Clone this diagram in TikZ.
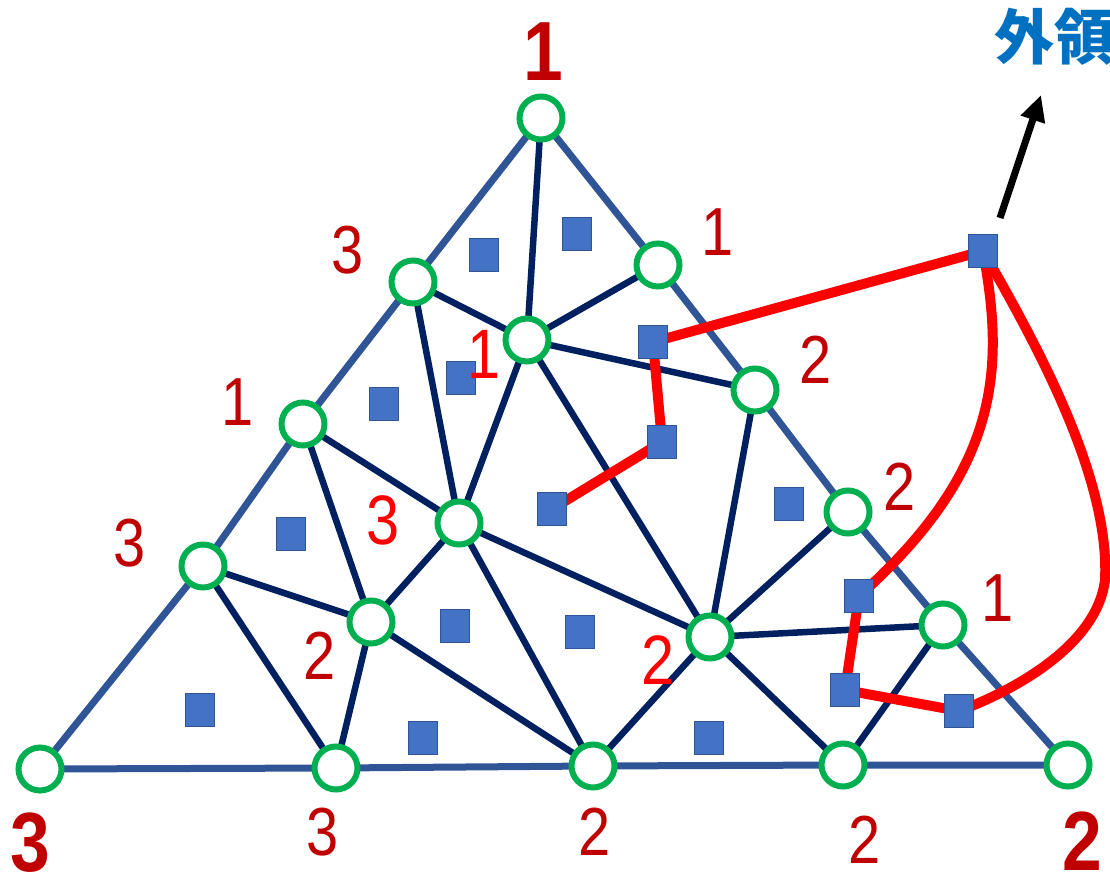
\documentclass[tikz,border=0pt]{standalone}
\usepackage{fontspec}
\setmainfont{Liberation Sans}
\newfontfamily\cjkfont{Noto Sans CJK JP}
\usetikzlibrary{arrows.meta}
\definecolor{vgreen}{HTML}{00B050}
\definecolor{outerblue}{HTML}{2F5597}
\definecolor{navy}{HTML}{002060}
\definecolor{sqfill}{HTML}{4472C4}
\definecolor{sqedge}{HTML}{2F5597}
\definecolor{dred}{HTML}{C00000}
\definecolor{bred}{HTML}{FF0000}
\definecolor{tblue}{HTML}{0070C0}
\newcommand{\nrw}[1]{\scalebox{0.85}[1]{#1}}
\begin{document}
\begin{tikzpicture}[x=1pt,y=-1pt,
  vtx/.style={circle,draw=vgreen,fill=white,line width=6pt,minimum size=43pt,inner sep=0pt},
  face/.style={rectangle,draw=sqedge,fill=sqfill,line width=1.5pt,minimum width=29pt,minimum height=33pt,inner sep=0pt},
  outeredge/.style={draw=outerblue,line width=7pt},
  inedge/.style={draw=navy,line width=6.5pt},
  dualedge/.style={draw=bred,line width=10pt},
  lbl/.style={text=dred,inner sep=0pt,font=\fontsize{68}{68}\selectfont},
  biglbl/.style={text=dred,inner sep=0pt,font=\fontsize{84}{84}\selectfont\bfseries},
  inlbl/.style={text=bred,inner sep=0pt,font=\fontsize{70}{70}\selectfont}]
\useasboundingbox (0,0) rectangle (1110,880);
\clip (0,0) rectangle (1110,880);
% vertex positions
\coordinate (pA) at (541,118);
\coordinate (pB) at (413,282);
\coordinate (pC) at (658,265);
\coordinate (pD) at (527,340);
\coordinate (pE) at (303,424);
\coordinate (pF) at (755,390);
\coordinate (pG) at (459,523);
\coordinate (pH) at (848,512);
\coordinate (pI) at (203,566);
\coordinate (pJ) at (371,622);
\coordinate (pK) at (710,637);
\coordinate (pL) at (943,625);
\coordinate (pM) at (40,769);
\coordinate (pN) at (336,768);
\coordinate (pO) at (593,766);
\coordinate (pP) at (843,765);
\coordinate (pQ) at (1068,765);
% outer edges
\draw[outeredge] (pM) -- (pI) -- (pE) -- (pB) -- (pA) -- (pC) -- (pF) -- (pH) -- (pL) -- (pQ) -- (pP) -- (pO) -- (pN) -- (pM);
% inner edges
\foreach \u/\v in {A/D,B/D,C/D,B/G,D/F,D/G,D/K,E/G,E/J,I/J,I/N,J/G,J/N,J/O,G/O,G/K,F/K,H/K,K/O,K/L,K/P,L/P}
  \draw[inedge] (p\u) -- (p\v);
% dual squares (positions)
\coordinate (q1) at (577,234);
\coordinate (q2) at (484,255);
\coordinate (q3) at (461,378);
\coordinate (q4) at (384,404);
\coordinate (q5) at (291,534);
\coordinate (q6) at (552,509);
\coordinate (q7) at (653,342);
\coordinate (q8) at (662,442);
\coordinate (q9) at (789,504);
\coordinate (q10) at (455,626);
\coordinate (q11) at (580,632);
\coordinate (q12) at (200,710);
\coordinate (q13) at (423,738);
\coordinate (q14) at (709,738);
\coordinate (q15) at (859,596);
\coordinate (q16) at (845,690);
\coordinate (q17) at (959,711);
\coordinate (q18) at (983,251);
% red dual path
\draw[dualedge] (q18) -- (q7) -- (q8) -- (q6);
\draw[dualedge] (q18) .. controls (1005,370) and (1000,470) .. (q15);
\draw[dualedge] (q15) -- (q16) -- (q17);
\draw[dualedge] (q18) .. controls (1040,350) and (1110,480) .. (1105,580) .. controls (1097,645) and (1015,690) .. (q17);
% squares
\foreach \i in {1,...,18}
  \node[face] (s\i) at (q\i) {};
% vertices
\foreach \p in {A,B,C,D,E,F,G,H,I,J,K,L,M,N,O,P,Q}
  \node[vtx] (v\p) at (p\p) {};
% arrow to outer region
\coordinate (arrstart) at (1000,218);
\coordinate (arrend) at (1041,95);
\draw[line width=7pt,-{Triangle[length=26pt,width=24pt]}] (arrstart) -- (arrend);
\node[anchor=base west,inner sep=0pt,text=tblue,font=\cjkfont\bfseries\fontsize{60}{60}\selectfont] (outer) at (994,60) {外領};
% boundary labels
\node[biglbl] (l1) at (543,52) {\nrw{1}};
\node[lbl] (l2) at (348,250) {\nrw{3}};
\node[lbl] (l3) at (718,232) {\nrw{1}};
\node[lbl] (l4) at (238,402) {\nrw{1}};
\node[lbl] (l5) at (816,360) {\nrw{2}};
\node[lbl] (l6) at (130,543) {\nrw{3}};
\node[lbl] (l7) at (900,487) {\nrw{2}};
\node[lbl] (l8) at (998,598) {\nrw{1}};
\node[lbl] (l9) at (320,656) {\nrw{2}};
\node[biglbl] (l10) at (30,843) {\nrw{3}};
\node[lbl] (l11) at (323,832) {\nrw{3}};
\node[lbl] (l12) at (595,832) {\nrw{2}};
\node[lbl] (l13) at (865,840) {\nrw{2}};
\node[biglbl] (l14) at (1082,841) {\nrw{2}};
% interior labels
\node[inlbl] (m1) at (484,354) {\nrw{1}};
\node[inlbl] (m2) at (383,520) {\nrw{3}};
\node[inlbl] (m3) at (658,660) {\nrw{2}};
\end{tikzpicture}
\end{document}
